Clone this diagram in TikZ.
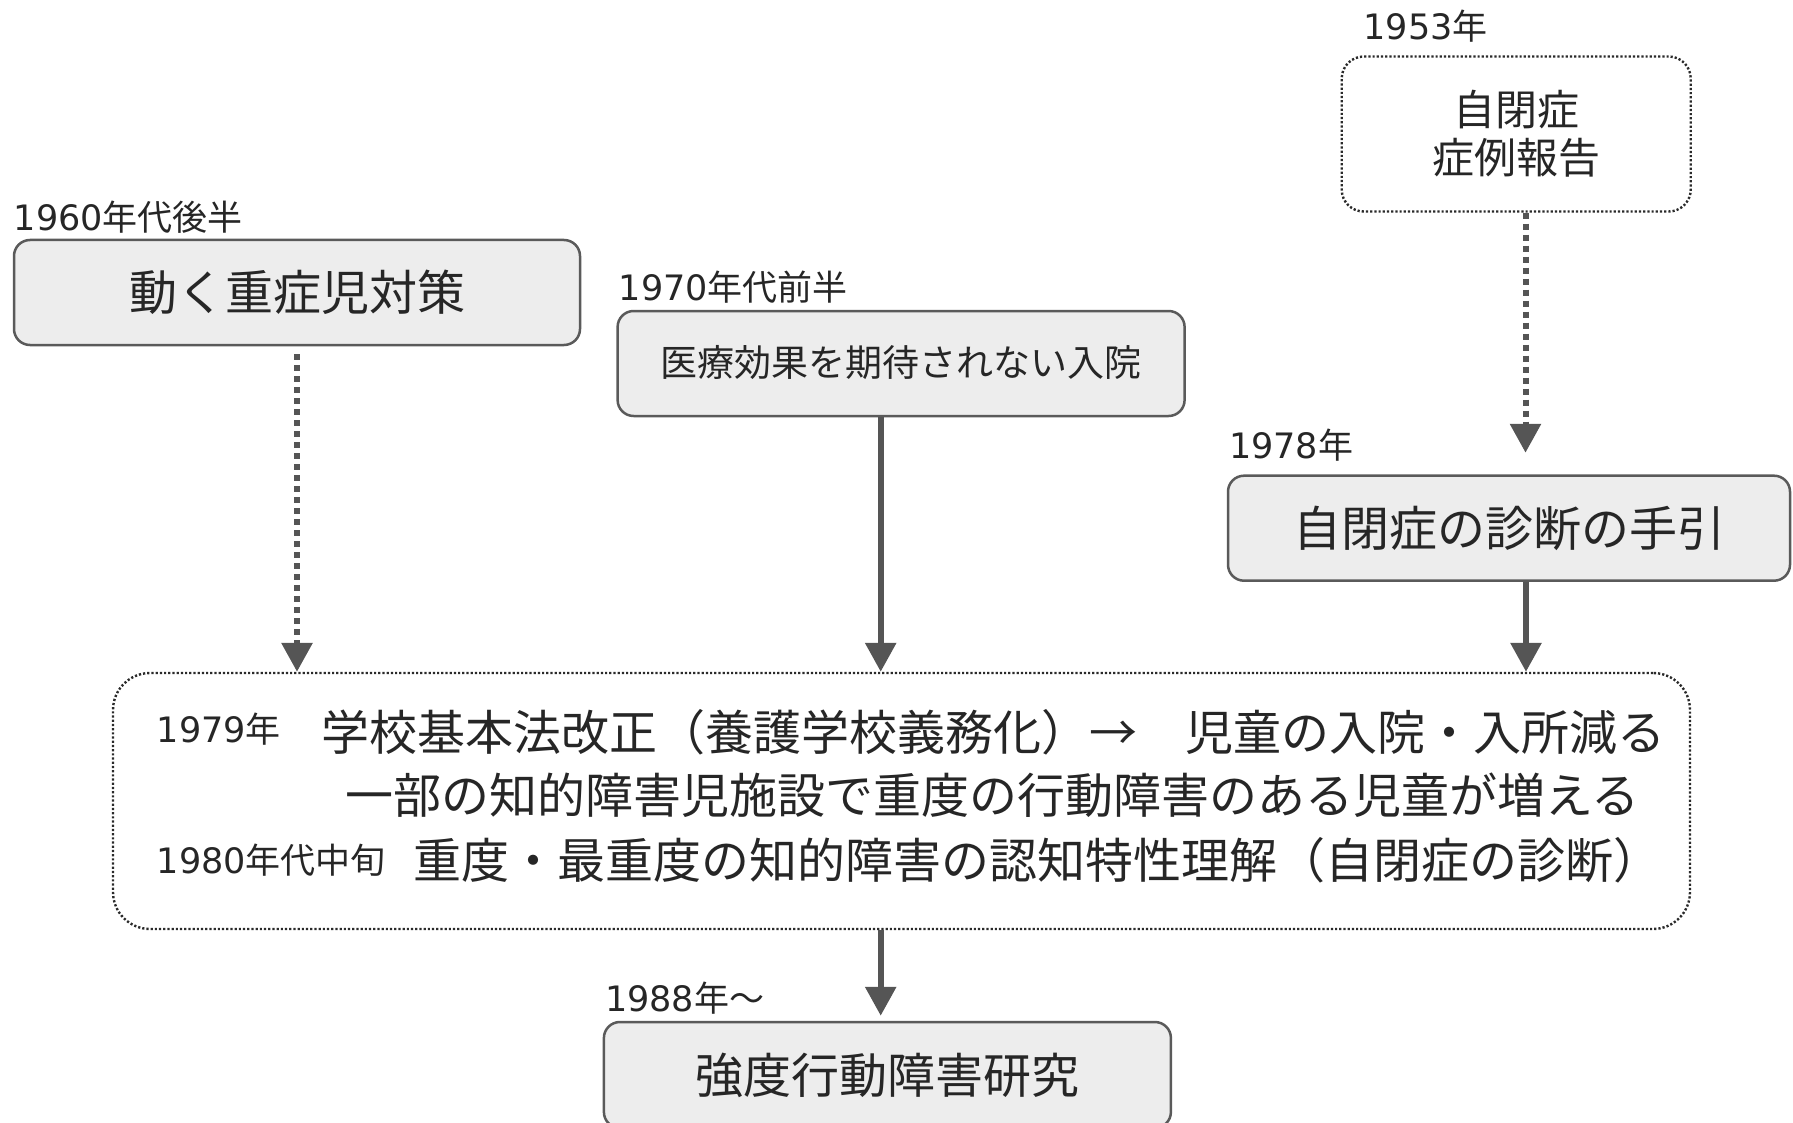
\documentclass[tikz,border=0pt]{standalone}
\usepackage{fontspec}
\setmainfont{Noto Sans CJK JP}
\newfontfamily\dg{DejaVu Sans}
\usetikzlibrary{arrows.meta}
\definecolor{txt}{HTML}{262626}
\definecolor{boxfill}{HTML}{EDEDED}
\definecolor{boxline}{HTML}{5A5A5A}
\definecolor{arr}{HTML}{555555}
\definecolor{dotline}{HTML}{2A2A2A}
\begin{document}
\begin{tikzpicture}[x=1pt,y=-1pt,
  every node/.style={text=txt},
  box/.style={draw=boxline, line width=2.5pt, fill=boxfill, rounded corners=16pt,
    inner sep=0pt, font=\fontsize{48}{52}\selectfont, align=center},
  dbox/.style={draw=dotline, line width=2.4pt, dash pattern=on 2.2pt off 2pt, inner sep=0pt},
  yr/.style={font=\fontsize{35}{40}\selectfont, anchor=west, inner sep=0pt},
  big/.style={font=\fontsize{48}{52}\selectfont, inner sep=0pt},
  sarr/.style={draw=arr, line width=6pt, -{Triangle[length=29pt,width=30pt]}},
  darr/.style={sarr, dash pattern=on 6pt off 5pt},
]
\useasboundingbox (0,0) rectangle (1793,1123);
\clip (0,0) rectangle (1793,1123);

% boxes
\node[dbox, rounded corners=22pt, minimum width=349pt, minimum height=155pt,
      font=\fontsize{42}{48}\selectfont, align=center, text=txt] (A) at (1516.2,134) {自閉症\\症例報告};
\node[box, minimum width=566pt, minimum height=105pt] (B) at (297,292.5) {動く重症児対策};
\node[box, minimum width=567pt, minimum height=105pt, font=\fontsize{37}{40}\selectfont] (C) at (901.1,363.5) {\raisebox{5pt}{医療効果を期待されない入院}};
\node[box, minimum width=562pt, minimum height=105pt] (D) at (1509,528.2) {自閉症の診断の手引};
\node[dbox, rounded corners=37pt, minimum width=1577pt, minimum height=256pt] (E) at (901.5,801) {};
\node[box, minimum width=567pt, minimum height=106pt] (F) at (887.4,1075) {強度行動障害研究};

% year labels
\node[yr] (l1953) at (1363.3,26) {{\dg 1953}年};
\node[yr] (l1960) at (13.7,217) {{\dg 1960}年代後半};
\node[yr] (l1970) at (618.6,287) {{\dg 1970}年代前半};
\node[yr] (l1978) at (1229,445) {{\dg 1978}年};
\node[yr] (l1979) at (156.7,729) {{\dg 1979}年};
\node[yr] (l1980) at (156.7,860) {{\dg 1980}年代中旬};
\node[yr] (l1988) at (605,998) {{\dg 1988}年〜};

% text inside big box
\node[big, anchor=west] (t1a) at (321.7,732) {学校基本法改正（養護学校義務化）→};
\node[big] (t1b) at (1425,732) {児童の入院・入所減る};
\node[big] (t2) at (992.5,795) {一部の知的障害児施設で重度の行動障害のある児童が増える};
\node[big] (t3) at (1037,860) {重度・最重度の知的障害の認知特性理解（自閉症の診断）};

% connectors
\draw[darr] ([xshift=9.3pt]A.south) -- ([xshift=9.3pt,yshift=21.7pt]A.south |- D.north);
\draw[darr, shorten <=8pt] (B.south) -- (B.south |- E.north);
\draw[sarr] ([xshift=-20.4pt]C.south) -- ([xshift=-20.4pt]C.south |- E.north);
\draw[sarr] ([xshift=17pt]D.south) -- ([xshift=17pt]D.south |- E.north);
\draw[sarr, shorten >=5pt] ([xshift=-20.8pt]E.south) -- ([xshift=-20.8pt]E.south |- F.north);
\end{tikzpicture}
\end{document}
